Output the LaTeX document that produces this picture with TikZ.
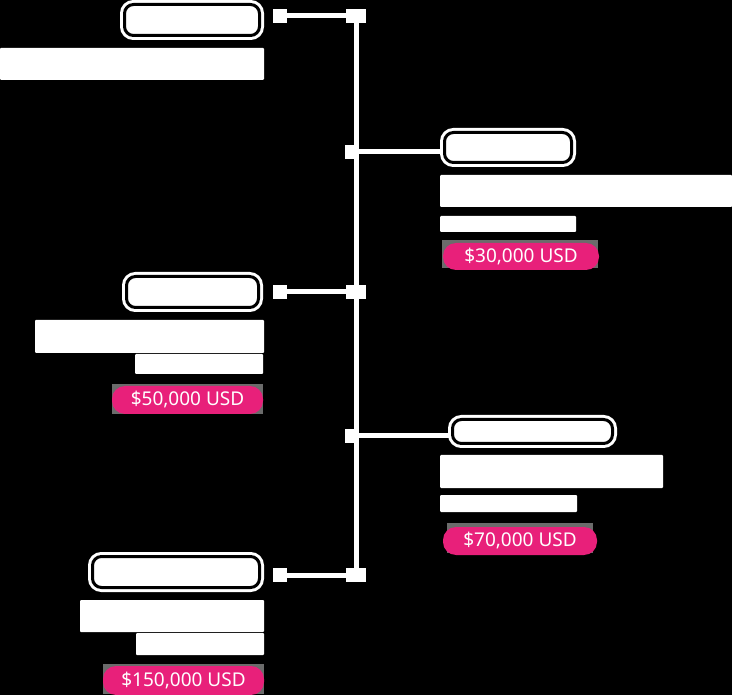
\documentclass[tikz,border=0pt]{standalone}
\usepackage{fontspec}
\setmainfont{Noto Sans}
\definecolor{pinkc}{HTML}{E8207A}
\definecolor{pgray}{HTML}{6B6B6B}
\begin{document}
\begin{tikzpicture}[x=1pt,y=-1pt,
 conn/.style={draw=white,line width=5pt},
 jn/.style={fill=white,minimum width=20pt,minimum height=14pt,inner sep=0pt},
 jnr/.style={fill=white,minimum width=14pt,minimum height=14pt,inner sep=0pt},
 ep/.style={fill=white,minimum width=14pt,minimum height=14pt,inner sep=0pt},
 badge/.style={draw=white,fill=white,double=black,double distance=3pt,line width=3pt,rounded corners=9pt,inner sep=0pt},
 blk/.style={fill=white,inner sep=0pt,rounded corners=1pt},
 pricetag/.style={fill=pinkc,text=white,rounded corners=13pt,inner sep=0pt,font=\fontsize{19}{21}\selectfont},
 pback/.style={fill=pgray,inner sep=0pt}]
\useasboundingbox (0,0) rectangle (732,695);
\fill[black] (0,0) rectangle (732,695);

% ---- row 1 (left)
\node[badge,minimum width=135pt,minimum height=31pt] (b1) at (192,20) {};
\node[blk,minimum width=264pt,minimum height=32pt] (t1) at (132,64) {};
\node[ep] (e1) at (280,16) {};
\node[jn] (j1) at (356,16) {};

% ---- row 2 (right)
\node[badge,minimum width=127pt,minimum height=30pt] (b2) at (508,147.5) {};
\node[blk,minimum width=292pt,minimum height=32pt] (t2) at (586,191) {};
\node[blk,minimum width=136pt,minimum height=16pt] (s2) at (508,224) {};
\node[pback,minimum width=156pt,minimum height=28pt] (g2) at (520,254) {};
\node[pricetag,minimum width=156pt,minimum height=27pt] (p2) at (521,256.5) {\$30,000 USD};
\node[jnr] (j2) at (352,152) {};

% ---- row 3 (left)
\node[badge,minimum width=132pt,minimum height=31pt] (b3) at (192.5,292) {};
\node[blk,minimum width=229pt,minimum height=33pt] (t3) at (149.5,336.5) {};
\node[blk,minimum width=128pt,minimum height=20pt] (s3) at (199,364) {};
\node[pback,minimum width=151pt,minimum height=30pt] (g3) at (187.5,399) {};
\node[pricetag,minimum width=151pt,minimum height=28pt] (p3) at (187.5,400) {\$50,000 USD};
\node[ep] (e3) at (280,292) {};
\node[jn] (j3) at (356,292) {};

% ---- row 4 (right)
\node[badge,minimum width=160pt,minimum height=24pt] (b4) at (532.5,431.5) {};
\node[blk,minimum width=223pt,minimum height=33pt] (t4) at (551.5,471.5) {};
\node[blk,minimum width=137pt,minimum height=17pt] (s4) at (508.5,503.5) {};
\node[pback,minimum width=146pt,minimum height=30pt] (g4) at (520,538) {};
\node[pricetag,minimum width=154pt,minimum height=28pt] (p4) at (520,541) {\$70,000 USD};
\node[jnr] (j4) at (352,436) {};

% ---- row 5 (left)
\node[badge,minimum width=167pt,minimum height=31pt] (b5) at (176,572) {};
\node[blk,minimum width=184pt,minimum height=32pt] (t5) at (172,616) {};
\node[blk,minimum width=128pt,minimum height=22pt] (s5) at (200,644) {};
\node[pback,minimum width=161pt,minimum height=30pt] (g5) at (183.5,679) {};
\node[pricetag,minimum width=161pt,minimum height=29pt] (p5) at (183.5,680.5) {\$150,000 USD};
\node[ep] (e5) at (280,575) {};
\node[jn] (j5) at (356,575) {};

% ---- connectors
\draw[conn] (j1) -- (j5);
\draw[conn] (e1) -- (j1);
\draw[conn] (e3) -- (j3);
\draw[conn] (e5) -- (j5);
\draw[conn] (j2) -- (j2 -| b2.west);
\draw[conn] (j4) -- (j4 -| b4.west);
\end{tikzpicture}
\end{document}
